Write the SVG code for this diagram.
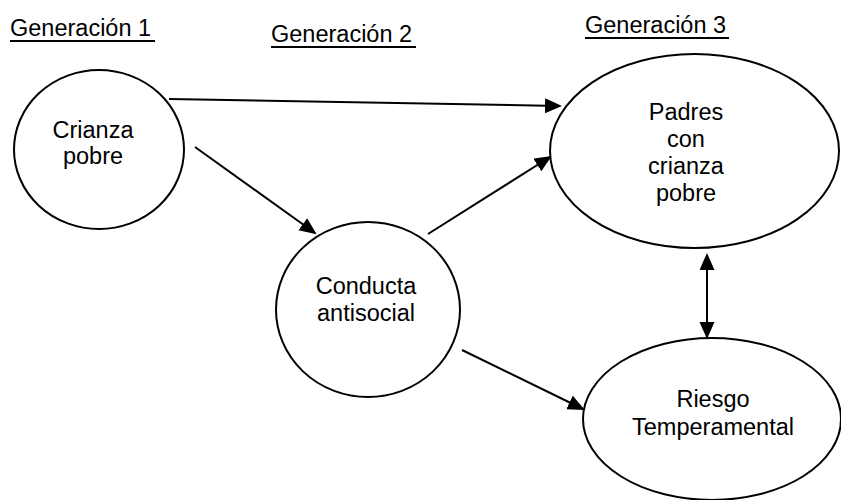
<svg xmlns="http://www.w3.org/2000/svg" width="841" height="500" viewBox="0 0 841 500">
  <style>
    .node { fill: #ffffff; stroke: #000000; stroke-width: 2; }
    .label { font-family: "Liberation Sans", Arial, sans-serif; font-size: 23.5px; fill: #000000; text-anchor: middle; }
    .head { font-family: "Liberation Sans", Arial, sans-serif; font-size: 23.5px; fill: #000000; }
    .rule { stroke: #000000; stroke-width: 2; }
    .edge { fill: none; stroke: #000000; stroke-width: 2; }
  </style>
  <defs>
    <marker id="arrow" markerUnits="userSpaceOnUse" markerWidth="18" markerHeight="16" refX="15" refY="7.5" orient="auto-start-reverse">
      <path d="M0,0 L17,7.5 L0,15 z" fill="#000000"/>
    </marker>
  </defs>

  <rect width="841" height="500" fill="#ffffff"/>

  <!-- generation headings -->
  <g id="headings">
    <text class="head" x="10" y="36">Generación 1</text>
    <line class="rule" x1="10" y1="41" x2="155" y2="41"/>
    <text class="head" x="271" y="42">Generación 2</text>
    <line class="rule" x1="271" y1="47" x2="416" y2="47"/>
    <text class="head" x="585" y="33">Generación 3</text>
    <line class="rule" x1="585" y1="38" x2="729" y2="38"/>
  </g>

  <!-- connectors -->
  <g id="connectors">
    <line class="edge" x1="169" y1="99" x2="560" y2="106" marker-end="url(#arrow)"/>
    <line class="edge" x1="195" y1="147" x2="315" y2="233" marker-end="url(#arrow)"/>
    <line class="edge" x1="428" y1="234" x2="550" y2="157" marker-end="url(#arrow)"/>
    <line class="edge" x1="462" y1="350" x2="583" y2="409" marker-end="url(#arrow)"/>
    <line class="edge" x1="707" y1="255" x2="707" y2="337" marker-start="url(#arrow)" marker-end="url(#arrow)"/>
  </g>

  <!-- nodes -->
  <g id="crianza-pobre">
    <ellipse class="node" cx="99" cy="149.5" rx="85" ry="79.5"/>
    <text class="label" x="93" y="138">Crianza</text>
    <text class="label" x="93" y="164">pobre</text>
  </g>

  <g id="conducta-antisocial">
    <ellipse class="node" cx="368" cy="309.5" rx="92" ry="87.5"/>
    <text class="label" x="366" y="294">Conducta</text>
    <text class="label" x="366" y="321">antisocial</text>
  </g>

  <g id="padres-crianza-pobre">
    <ellipse class="node" cx="694.5" cy="151" rx="144.5" ry="97"/>
    <text class="label" x="686" y="120">Padres</text>
    <text class="label" x="686" y="147">con</text>
    <text class="label" x="686" y="174">crianza</text>
    <text class="label" x="686" y="201">pobre</text>
  </g>

  <g id="riesgo-temperamental">
    <ellipse class="node" cx="712" cy="419" rx="129" ry="81"/>
    <text class="label" x="713" y="407">Riesgo</text>
    <text class="label" x="713" y="435">Temperamental</text>
  </g>
</svg>
